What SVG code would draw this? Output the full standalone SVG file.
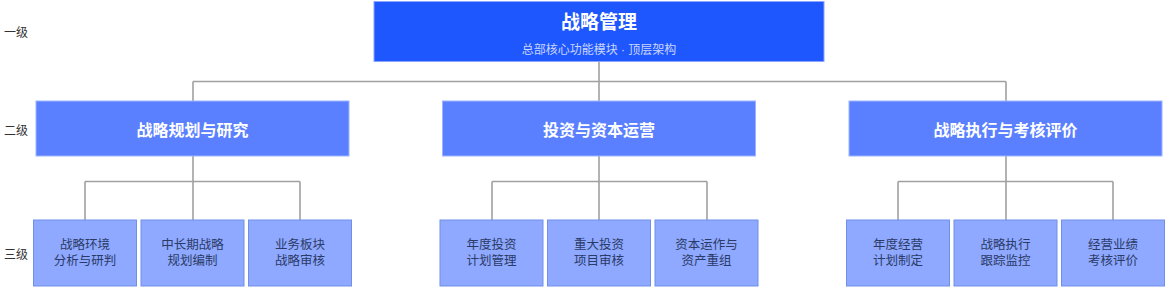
<svg xmlns="http://www.w3.org/2000/svg" width="1174" height="289" viewBox="0 0 1174 289" lang="zh-CN">
<style>
  text { font-family: "Liberation Sans", "Noto Sans CJK SC", sans-serif; }
  .lvl { font-size: 12px; fill: #333333; }
  .l1 { fill: #1f57ff; stroke: #8aa6ff; stroke-width: 1; }
  .l2 { fill: #5a80ff; stroke: #9db4ff; stroke-width: 1; }
  .l3 { fill: #8ea9ff; stroke: #6f8fe8; stroke-width: 1; }
  .t1 { font-size: 19px; font-weight: bold; fill: #ffffff; text-anchor: middle; }
  .sub { font-size: 12px; fill: #c9d6ff; text-anchor: middle; }
  .t2 { font-size: 16px; font-weight: bold; fill: #ffffff; text-anchor: middle; }
  .t3 { font-size: 12.5px; fill: #2b3a66; text-anchor: middle; }
  .conn { fill: none; stroke: #a0a0a0; stroke-width: 1.6; }
</style>
<rect width="1174" height="289" fill="#ffffff"/>
<g id="levels">
  <text class="lvl" x="4" y="37">一级</text>
  <text class="lvl" x="4" y="135">二级</text>
  <text class="lvl" x="4" y="259">三级</text>
</g>
<g id="connectors">
  <path class="conn" d="M599,61 V81.5 M193,81.5 H1006 M193,81.5 V101 M599,81.5 V101 M1006,81.5 V101"/>
  <path class="conn" d="M193,156 V220 M85,181.5 H300 M85,181.5 V220 M300,181.5 V220"/>
  <path class="conn" d="M599,156 V220 M492,181.5 H707 M492,181.5 V220 M707,181.5 V220"/>
  <path class="conn" d="M1006,156 V220 M898,181.5 H1113 M898,181.5 V220 M1113,181.5 V220"/>
</g>
<g id="root">
  <rect class="l1" x="374" y="1.5" width="450" height="60"/>
  <text class="t1" x="599" y="29">战略管理</text>
  <text class="sub" x="599" y="54">总部核心功能模块 · 顶层架构</text>
</g>
<g id="n2-1">
  <rect class="l2" x="36" y="101" width="313" height="55"/>
  <text class="t2" x="192.5" y="136">战略规划与研究</text>
</g>
<g id="n2-2">
  <rect class="l2" x="442.5" y="101" width="313" height="55"/>
  <text class="t2" x="599" y="136">投资与资本运营</text>
</g>
<g id="n2-3">
  <rect class="l2" x="849" y="101" width="313" height="55"/>
  <text class="t2" x="1005.5" y="136">战略执行与考核评价</text>
</g>
<g id="n3-1">
  <rect class="l3" x="33.5" y="220" width="103" height="66"/>
  <text class="t3" x="85" y="249">战略环境</text>
  <text class="t3" x="85" y="265">分析与研判</text>
</g>
<g id="n3-2">
  <rect class="l3" x="141" y="220" width="103" height="66"/>
  <text class="t3" x="192.5" y="249">中长期战略</text>
  <text class="t3" x="192.5" y="265">规划编制</text>
</g>
<g id="n3-3">
  <rect class="l3" x="248.5" y="220" width="103" height="66"/>
  <text class="t3" x="300" y="249">业务板块</text>
  <text class="t3" x="300" y="265">战略审核</text>
</g>
<g id="n3-4">
  <rect class="l3" x="440" y="220" width="103" height="66"/>
  <text class="t3" x="491.5" y="249">年度投资</text>
  <text class="t3" x="491.5" y="265">计划管理</text>
</g>
<g id="n3-5">
  <rect class="l3" x="547.5" y="220" width="103" height="66"/>
  <text class="t3" x="599" y="249">重大投资</text>
  <text class="t3" x="599" y="265">项目审核</text>
</g>
<g id="n3-6">
  <rect class="l3" x="655" y="220" width="103" height="66"/>
  <text class="t3" x="706.5" y="249">资本运作与</text>
  <text class="t3" x="706.5" y="265">资产重组</text>
</g>
<g id="n3-7">
  <rect class="l3" x="846.5" y="220" width="103" height="66"/>
  <text class="t3" x="898" y="249">年度经营</text>
  <text class="t3" x="898" y="265">计划制定</text>
</g>
<g id="n3-8">
  <rect class="l3" x="954" y="220" width="103" height="66"/>
  <text class="t3" x="1005.5" y="249">战略执行</text>
  <text class="t3" x="1005.5" y="265">跟踪监控</text>
</g>
<g id="n3-9">
  <rect class="l3" x="1061.5" y="220" width="103" height="66"/>
  <text class="t3" x="1113" y="249">经营业绩</text>
  <text class="t3" x="1113" y="265">考核评价</text>
</g>
</svg>
